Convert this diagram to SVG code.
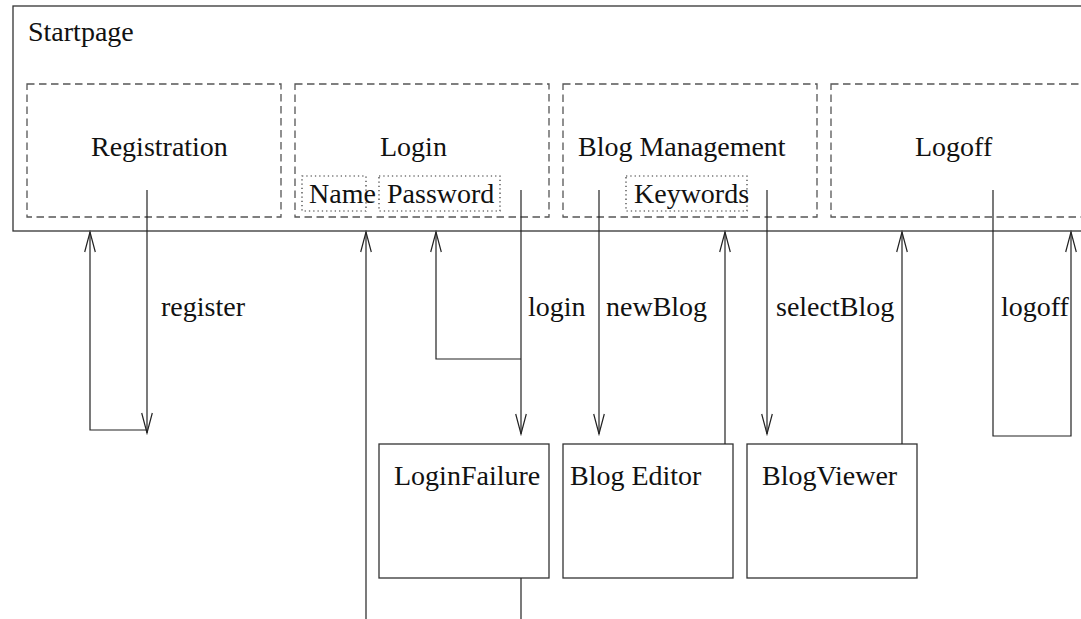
<svg xmlns="http://www.w3.org/2000/svg" width="1081" height="619" viewBox="0 0 1081 619">
  <style>
    text { font-family: "Liberation Serif", "Times New Roman", serif; font-size: 28px; fill: #111; }
    .frame { fill: none; stroke: #333; stroke-width: 1.3; }
    .area { fill: none; stroke: #555; stroke-width: 1.3; stroke-dasharray: 7.5 4.5; }
    .field { fill: none; stroke: #333; stroke-width: 1.2; stroke-dasharray: 1.3 3; }
    .page { fill: #fff; stroke: #333; stroke-width: 1.3; }
    .edge { fill: none; stroke: #222; stroke-width: 1.2; }
  </style>
  <defs>
    <marker id="open" viewBox="-22 -7 24 14" markerWidth="24" markerHeight="14" refX="0" refY="0" orient="auto" markerUnits="userSpaceOnUse">
      <path d="M-20,-5.3 L0,0 L-20,5.3" fill="none" stroke="#222" stroke-width="1.2"/>
    </marker>
  </defs>
  <rect width="1081" height="619" fill="#fff"/>

  <!-- start page container -->
  <g id="startpage">
    <rect class="frame" x="13" y="6" width="1100" height="225"/>
    <text x="28" y="41">Startpage</text>
  </g>

  <g id="registration">
    <rect class="area" x="27" y="84" width="254" height="133"/>
    <text x="91" y="156">Registration</text>
  </g>

  <g id="login">
    <rect class="area" x="295" y="84" width="254" height="133"/>
    <text x="380" y="156">Login</text>
  </g>
  <g id="name">
    <rect class="field" x="302" y="176" width="64" height="35"/>
    <text x="309" y="203">Name</text>
  </g>
  <g id="password">
    <rect class="field" x="379" y="176" width="121" height="35"/>
    <text x="387" y="203">Password</text>
  </g>

  <g id="blog-management">
    <rect class="area" x="563" y="84" width="254" height="133"/>
    <text x="578" y="156">Blog Management</text>
  </g>
  <g id="keywords">
    <rect class="field" x="626" y="176" width="121" height="35"/>
    <text x="634" y="203">Keywords</text>
  </g>

  <g id="logoff">
    <rect class="area" x="831" y="84" width="260" height="133"/>
    <text x="915" y="156">Logoff</text>
  </g>

  <g id="login-failure">
    <rect class="page" x="379" y="444" width="170" height="134"/>
    <text x="394" y="485">LoginFailure</text>
  </g>
  <g id="blog-editor">
    <rect class="page" x="563" y="444" width="170" height="134"/>
    <text x="570" y="485">Blog Editor</text>
  </g>
  <g id="blog-viewer">
    <rect class="page" x="747" y="444" width="170" height="134"/>
    <text x="762" y="485">BlogViewer</text>
  </g>

  <!-- transitions -->
  <g id="connectors">
    <line class="edge" x1="147" y1="190" x2="147" y2="433" marker-end="url(#open)"/>
    <polyline class="edge" points="147,430 90,430 90,232" marker-end="url(#open)"/>
    <text x="161" y="316">register</text>

    <line class="edge" x1="521" y1="190" x2="521" y2="434" marker-end="url(#open)"/>
    <polyline class="edge" points="521,359 436,359 436,232" marker-end="url(#open)"/>
    <text x="528" y="316">login</text>

    <line class="edge" x1="521" y1="578" x2="521" y2="625"/>
    <line class="edge" x1="366" y1="625" x2="366" y2="232" marker-end="url(#open)"/>

    <line class="edge" x1="599" y1="190" x2="599" y2="434" marker-end="url(#open)"/>
    <text x="606" y="316">newBlog</text>
    <line class="edge" x1="725" y1="444" x2="725" y2="232" marker-end="url(#open)"/>

    <line class="edge" x1="767" y1="190" x2="767" y2="434" marker-end="url(#open)"/>
    <text x="776" y="316">selectBlog</text>
    <line class="edge" x1="902" y1="444" x2="902" y2="232" marker-end="url(#open)"/>

    <polyline class="edge" points="993,190 993,436 1071,436 1071,232" marker-end="url(#open)"/>
    <text x="1001" y="316">logoff</text>
  </g>
</svg>
